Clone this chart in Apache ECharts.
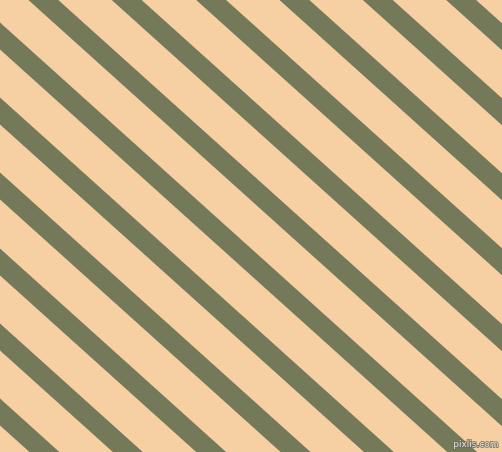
<!DOCTYPE html>
<html>
<head>
<meta charset="utf-8">
<script src="https://cdn.jsdelivr.net/npm/echarts@6/dist/echarts.min.js"></script>
<style>
  html, body { margin: 0; padding: 0; background: #f6d0a2; }
  #chart { width: 502px; height: 452px; }
</style>
</head>
<body>
<div id="chart"></div>
<script>
// stripe centre lines: y where each stripe meets the left edge (px, y down)
var stripeOffsets = [-490, -415, -340, -265, -190, -114, -39, 36, 111, 186, 262, 337, 412];
// drop per pixel to the right (about 42 degrees)
var stripeSlope = 0.9;
var xSpan = [-30, 532];

var chart = echarts.init(document.getElementById('chart'), null, { renderer: 'canvas' });

var series = stripeOffsets.map(function (b) {
    return {
        type: 'line',
        symbol: 'none',
        silent: true,
        clip: true,
        data: xSpan.map(function (x) { return [x, b + stripeSlope * x]; }),
        lineStyle: { color: '#74795a', width: 20, cap: 'butt' }
    };
});

chart.setOption({
    animation: false,
    backgroundColor: '#f6d0a2',
    grid: { left: 0, right: 0, top: 0, bottom: 0 },
    xAxis: { type: 'value', min: 0, max: 502, show: false },
    yAxis: { type: 'value', min: 0, max: 452, inverse: true, show: false },
    title: {
        text: 'pixlis.com',
        right: 1,
        bottom: 0,
        padding: 1,
        textStyle: {
            fontFamily: 'DejaVu Sans',
            fontSize: 9,
            fontWeight: 'normal',
            color: '#e6e2da',
            textBorderColor: '#6a6a5a',
            textBorderWidth: 1.5
        }
    },
    series: series
});
</script>
</body>
</html>
